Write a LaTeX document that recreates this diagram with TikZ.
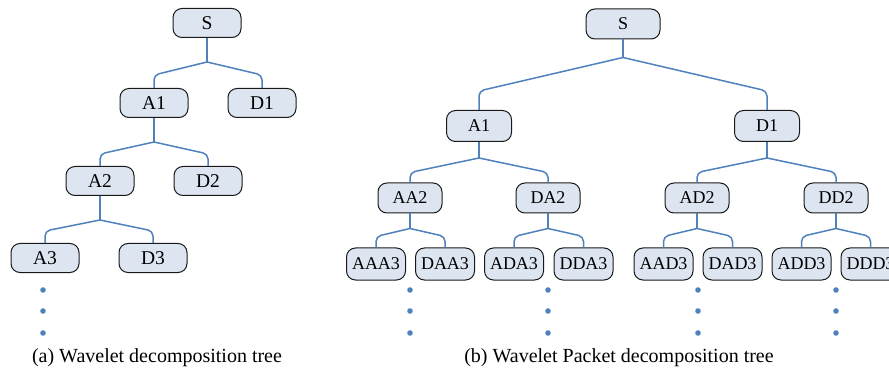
\documentclass[tikz,border=0pt]{standalone}
\usepackage{fontspec}
\setmainfont{Liberation Serif}
\usepackage{tikz}
\usetikzlibrary{calc}
\definecolor{boxfill}{RGB}{221,229,241}
\definecolor{linkblue}{RGB}{79,129,189}
\tikzstyle{wnode} = [rectangle, draw=black!90, line width=1pt, fill=boxfill, rounded corners=9pt, minimum width=68pt, minimum height=29pt, inner sep=0pt, font=\fontsize{19.5}{21}\selectfont]
\tikzstyle{pnode} = [wnode, minimum width=64pt, minimum height=30pt, font=\fontsize{18}{20}\selectfont]
\tikzstyle{leaf} = [pnode, minimum width=59pt, minimum height=32pt]
\tikzstyle{link} = [draw=linkblue, line width=1.5pt]
\tikzstyle{kink} = [link, rounded corners=5pt]

\begin{document}
\begin{tikzpicture}[x=1pt, y=-1pt]
        \useasboundingbox (0, 0) rectangle (889, 374);

        % (a) wavelet tree
        \node[wnode] at (207, 23) (S) {S};
        \node[wnode] at (154, 103) (A1) {A1};
        \node[wnode] at (262, 103) (D1) {D1};
        \node[wnode] at (100, 181) (A2) {A2};
        \node[wnode] at (208, 181) (D2) {D2};
        \node[wnode] at (45, 258) (A3) {A3};
        \node[wnode] at (153, 258) (D3) {D3};

        \coordinate (jS) at ([yshift=-24pt]S.south);
        \coordinate (jA1) at ([yshift=-24pt]A1.south);
        \coordinate (jA2) at ([yshift=-24pt]A2.south);
        \draw[link] (S) -- (jS);
        \draw[kink] (jS) -- ([yshift=13pt]A1.north) -- (A1.north);
        \draw[kink] (jS) -- ([yshift=13pt]D1.north) -- (D1.north);
        \draw[link] (A1) -- (jA1);
        \draw[kink] (jA1) -- ([yshift=12pt]A2.north) -- (A2.north);
        \draw[kink] (jA1) -- ([yshift=12pt]D2.north) -- (D2.north);
        \draw[link] (A2) -- (jA2);
        \draw[kink] (jA2) -- ([yshift=12pt]A3.north) -- (A3.north);
        \draw[kink] (jA2) -- ([yshift=12pt]D3.north) -- (D3.north);

        \fill[linkblue] (43, 290) circle (2.8);
        \fill[linkblue] (43, 311) circle (2.8);
        \fill[linkblue] (43, 333) circle (2.8);

        \node[font=\fontsize{20}{22}\selectfont] at (157, 358) (capA) {(a) Wavelet decomposition tree};

        % (b) wavelet packet tree
        \node[pnode, minimum width=74pt] at (623, 24) (PS) {S};
        \node[pnode, minimum width=65pt, minimum height=31pt] at (479, 126) (PA1) {A1};
        \node[pnode, minimum width=65pt, minimum height=31pt] at (767, 126) (PD1) {D1};
        \node[pnode] at (410, 198) (AA2) {AA2};
        \node[pnode] at (548, 198) (DA2) {DA2};
        \node[pnode] at (697, 198) (AD2) {AD2};
        \node[pnode] at (836, 198) (DD2) {DD2};
        \node[leaf] at (376, 264) (AAA3) {AAA3};
        \node[leaf] at (445, 264) (DAA3) {DAA3};
        \node[leaf] at (514, 264) (ADA3) {ADA3};
        \node[leaf] at (583.5, 264) (DDA3) {DDA3};
        \node[leaf] at (663.5, 264) (AAD3) {AAD3};
        \node[leaf] at (732.5, 264) (DAD3) {DAD3};
        \node[leaf] at (801.5, 264) (ADD3) {ADD3};
        \node[leaf] at (870.5, 264) (DDD3) {DDD3};

        \coordinate (jPS) at ([yshift=-18pt]PS.south);
        \coordinate (jPA1) at ([yshift=-16pt]PA1.south);
        \coordinate (jPD1) at ([yshift=-16pt]PD1.south);
        \coordinate (jAA2) at ([yshift=-15pt]AA2.south);
        \coordinate (jDA2) at ([yshift=-15pt]DA2.south);
        \coordinate (jAD2) at ([yshift=-15pt]AD2.south);
        \coordinate (jDD2) at ([yshift=-15pt]DD2.south);
        \draw[link] (PS) -- (jPS);
        \draw[kink] (jPS) -- ([yshift=19pt]PA1.north) -- (PA1.north);
        \draw[kink] (jPS) -- ([yshift=19pt]PD1.north) -- (PD1.north);
        \draw[link] (PA1) -- (jPA1);
        \draw[kink] (jPA1) -- ([yshift=10pt]AA2.north) -- (AA2.north);
        \draw[kink] (jPA1) -- ([yshift=10pt]DA2.north) -- (DA2.north);
        \draw[link] (PD1) -- (jPD1);
        \draw[kink] (jPD1) -- ([yshift=10pt]AD2.north) -- (AD2.north);
        \draw[kink] (jPD1) -- ([yshift=10pt]DD2.north) -- (DD2.north);
        \draw[link] (AA2) -- (jAA2);
        \draw[kink] (jAA2) -- ([yshift=11pt]AAA3.north) -- (AAA3.north);
        \draw[kink] (jAA2) -- ([yshift=11pt]DAA3.north) -- (DAA3.north);
        \draw[link] (DA2) -- (jDA2);
        \draw[kink] (jDA2) -- ([yshift=11pt]ADA3.north) -- (ADA3.north);
        \draw[kink] (jDA2) -- ([yshift=11pt]DDA3.north) -- (DDA3.north);
        \draw[link] (AD2) -- (jAD2);
        \draw[kink] (jAD2) -- ([yshift=11pt]AAD3.north) -- (AAD3.north);
        \draw[kink] (jAD2) -- ([yshift=11pt]DAD3.north) -- (DAD3.north);
        \draw[link] (DD2) -- (jDD2);
        \draw[kink] (jDD2) -- ([yshift=11pt]ADD3.north) -- (ADD3.north);
        \draw[kink] (jDD2) -- ([yshift=11pt]DDD3.north) -- (DDD3.north);

        \fill[linkblue] (410, 290) circle (2.8);
        \fill[linkblue] (410, 311) circle (2.8);
        \fill[linkblue] (410, 333) circle (2.8);
        \fill[linkblue] (548, 290) circle (2.8);
        \fill[linkblue] (548, 311) circle (2.8);
        \fill[linkblue] (548, 333) circle (2.8);
        \fill[linkblue] (698, 290) circle (2.8);
        \fill[linkblue] (698, 311) circle (2.8);
        \fill[linkblue] (698, 333) circle (2.8);
        \fill[linkblue] (836, 290) circle (2.8);
        \fill[linkblue] (836, 311) circle (2.8);
        \fill[linkblue] (836, 333) circle (2.8);

        \node[font=\fontsize{20}{22}\selectfont] at (619, 358) (capB) {(b) Wavelet Packet decomposition tree};
\end{tikzpicture}
\end{document}
